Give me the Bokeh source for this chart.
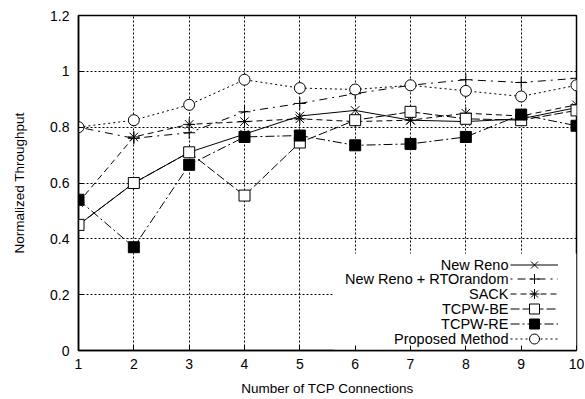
from bokeh.plotting import figure
from bokeh.models import (Range1d, FixedTicker, NumeralTickFormatter, Legend,
                          LegendItem, Label, BoxAnnotation)
from bokeh.embed import file_html
from bokeh.resources import INLINE

connections = [1, 2, 3, 4, 5, 6, 7, 8, 9, 10]
new_reno = [0.45, 0.60, 0.71, 0.775, 0.84, 0.86, 0.825, 0.82, 0.83, 0.87]
new_reno_rto = [0.80, 0.76, 0.78, 0.855, 0.885, 0.92, 0.95, 0.97, 0.96, 0.975]
sack = [0.53, 0.765, 0.81, 0.82, 0.83, 0.82, 0.825, 0.85, 0.84, 0.88]
tcpw_be = [0.45, 0.60, 0.71, 0.555, 0.745, 0.825, 0.855, 0.83, 0.825, 0.86]
tcpw_re = [0.54, 0.37, 0.665, 0.765, 0.77, 0.735, 0.74, 0.765, 0.845, 0.805]
proposed = [0.80, 0.825, 0.88, 0.97, 0.94, 0.935, 0.95, 0.93, 0.91, 0.95]

x_ticks = [1, 2, 3, 4, 5, 6, 7, 8, 9, 10]
y_ticks = [0, 0.2, 0.4, 0.6, 0.8, 1.0, 1.2]

FONT = "Liberation Sans"

p = figure(width=584, height=398, output_backend="svg", toolbar_location=None,
           x_range=Range1d(1, 10), y_range=Range1d(0, 1.2),
           min_border_left=78, min_border_right=8, min_border_top=15, min_border_bottom=46)

p.outline_line_color = "black"
p.outline_line_width = 1.5
p.background_fill_color = "white"

for ax in (p.xaxis[0], p.yaxis[0]):
    ax.axis_line_color = "black"
    ax.axis_line_width = 1.5
    ax.major_tick_in = 5
    ax.major_tick_out = 0
    ax.minor_tick_line_color = None
    ax.major_tick_line_color = "black"
    ax.major_label_text_font = FONT
    ax.major_label_text_font_size = "14px"
    ax.major_label_text_color = "black"
    ax.axis_label_text_font = FONT
    ax.axis_label_text_font_size = "13.5px"
    ax.axis_label_text_font_style = "normal"
    ax.axis_label_text_color = "black"

p.xaxis.ticker = FixedTicker(ticks=x_ticks)
p.yaxis.ticker = FixedTicker(ticks=y_ticks)
p.yaxis.formatter = NumeralTickFormatter(format="0.[0]")
p.xaxis.major_label_standoff = 8
p.yaxis.major_label_standoff = 9
p.xaxis.axis_label = "Number of TCP Connections"
p.yaxis.axis_label = "Normalized Throughput"
p.xaxis.axis_label_standoff = 9
p.yaxis.axis_label_standoff = 20

for g in p.grid:
    g.grid_line_color = "black"
    g.grid_line_dash = "2 2"
    g.grid_line_width = 1

# white key box over the grid (gnuplot-style key)
key_box = BoxAnnotation(left=255, right=498, top=97, bottom=0,
                        left_units="screen", right_units="screen",
                        top_units="screen", bottom_units="screen",
                        fill_color="white", fill_alpha=1.0, line_color=None,
                        level="underlay")
p.add_layout(key_box)

series = [
    ("New Reno", new_reno, "solid", "x", "white"),
    ("New Reno + RTOrandom", new_reno_rto, "2 5 8 5", "cross", "white"),
    ("SACK", sack, "6 4", "asterisk", "white"),
    ("TCPW-BE", tcpw_be, "9 3", "square", "white"),
    ("TCPW-RE", tcpw_re, "9 3 2 3", "square", "black"),
    ("Proposed Method", proposed, "2 3", "circle", "white"),
]

n = len(series)
row_gap = 14.8
for i, (name, vals, dash, marker, fill) in enumerate(series):
    ln = p.line(connections, vals, line_color="black", line_width=1, line_dash=dash)
    sz = 12 if marker in ("x", "cross", "asterisk") else 11
    sc = p.scatter(connections, vals, marker=marker, size=sz, line_color="black",
                   fill_color=fill, line_width=1)
    center = 12 + (n - 1 - i) * row_gap
    leg = Legend(items=[LegendItem(label=" ", renderers=[ln, sc])],
                 location=(432, center - 12.5), glyph_width=48, glyph_height=25,
                 spacing=0, padding=0, margin=0, label_width=0, label_height=0,
                 label_standoff=0, label_text_font_size="1px",
                 border_line_color=None, background_fill_alpha=0)
    p.add_layout(leg)
    p.add_layout(Label(x=430, y=center, x_units="screen", y_units="screen",
                       text=name, text_align="right", text_baseline="middle",
                       text_font=FONT, text_font_size="14.5px", text_color="black"))

open("out.html", "w").write(file_html(p, INLINE))
